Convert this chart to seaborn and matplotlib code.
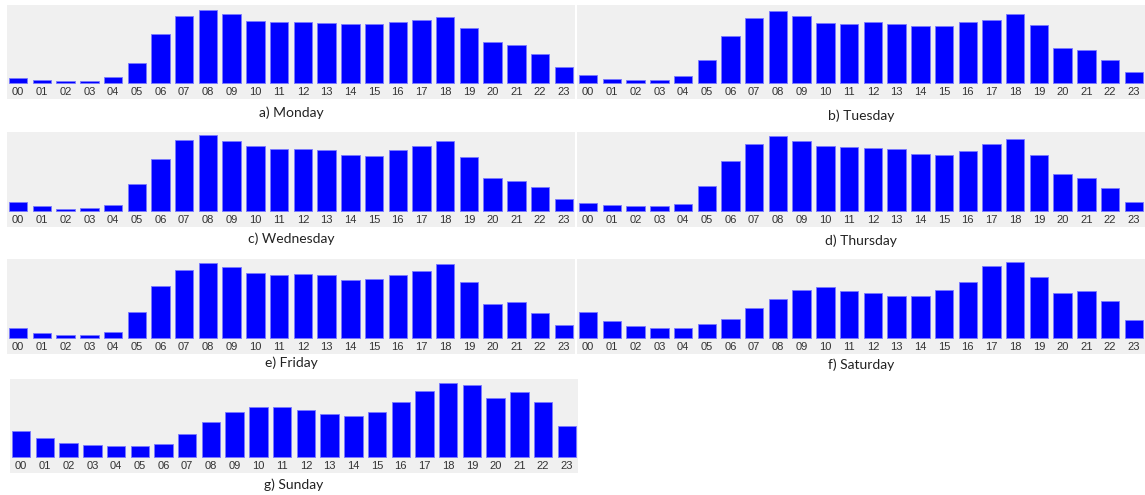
import numpy as np
import pandas as pd
import matplotlib
matplotlib.use("Agg")
import matplotlib.pyplot as plt
import seaborn as sns
from matplotlib import font_manager

hours = [f"{h:02d}" for h in range(24)]

# bar heights (same arbitrary scale in every panel)
monday = [16, 10, 7, 7, 19, 61, 148, 203, 222, 208, 189, 186,
          186, 183, 178, 178, 186, 192, 200, 167, 123, 115, 88, 49]
tuesday = [24, 13, 8, 8, 21, 71, 143, 198, 217, 203, 181, 178,
           184, 178, 173, 173, 184, 192, 208, 176, 107, 101, 71, 33]
wednesday = [28, 14, 5, 8, 19, 80, 155, 212, 228, 209, 193, 185,
             185, 182, 168, 165, 182, 195, 209, 162, 99, 91, 72, 36]
thursday = [25, 17, 14, 14, 22, 74, 149, 200, 225, 209, 195, 190,
            187, 184, 170, 167, 179, 200, 214, 167, 110, 97, 69, 28]
friday = [30, 16, 8, 8, 19, 77, 154, 203, 225, 211, 195, 187,
          192, 187, 173, 176, 187, 200, 222, 167, 101, 107, 74, 38]
saturday = [77, 52, 35, 30, 30, 41, 58, 91, 116, 143, 151, 140,
            134, 126, 126, 143, 168, 214, 228, 181, 134, 140, 110, 55]
sunday = [80, 59, 44, 36, 33, 33, 39, 69, 105, 135, 152, 151,
          141, 130, 125, 135, 168, 201, 223, 217, 179, 198, 166, 94]

captions = ["a) Monday", "b) Tuesday", "c) Wednesday", "d) Thursday",
            "e) Friday", "f) Saturday", "g) Sunday"]
series = [monday, tuesday, wednesday, thursday, friday, saturday, sunday]

sns.set_style("white")
names = {f.name for f in font_manager.fontManager.ttflist}
tick_font = "Liberation Sans Narrow" if "Liberation Sans Narrow" in names else "Liberation Sans"
print(tick_font)
plt.rcParams["font.family"] = [tick_font, "DejaVu Sans"]

W, H = 1145, 495
fig = plt.figure(figsize=(W / 100, H / 100), dpi=100)

# panel boxes in pixels: left, top, width, height ; caption y centre
boxes = [(7, 5, 568, 94, 113), (577, 5, 568, 94, 116),
         (7, 132, 568, 95, 239), (577, 132, 568, 95, 241),
         (7, 259, 568, 95, 363), (577, 259, 568, 95, 365),
         (10, 379, 568, 94, 485)]

for (x, y, w, h, cy), vals, cap in zip(boxes, series, captions):
    ax = fig.add_axes([x / W, 1 - (y + h) / H, w / W, h / H])
    df = pd.DataFrame({"hour": hours, "value": vals})
    sns.barplot(data=df, x="hour", y="value", color="#0000ff", saturation=1,
                width=0.78, edgecolor="#7a7aff", linewidth=0.6, ax=ax)
    ax.set_facecolor("#f0f0f0")
    ax.set_ylim(-48, 236)
    ax.set_xlim(-0.47, 23.47)
    ax.set_xlabel("")
    ax.set_ylabel("")
    ax.set_yticks([])
    for s in ax.spines.values():
        s.set_visible(False)
    fs = 9.5 if tick_font.endswith("Narrow") else 8
    ax.tick_params(axis="x", length=0, pad=-8.6, labelsize=fs,
                   labelcolor="#333333")
    fig.text((x + w / 2) / W, 1 - cy / H, cap, ha="center", va="center",
             fontsize=10, family=["Lato", "DejaVu Sans"], color="#222222")

fig.savefig("out.png", dpi=100)
